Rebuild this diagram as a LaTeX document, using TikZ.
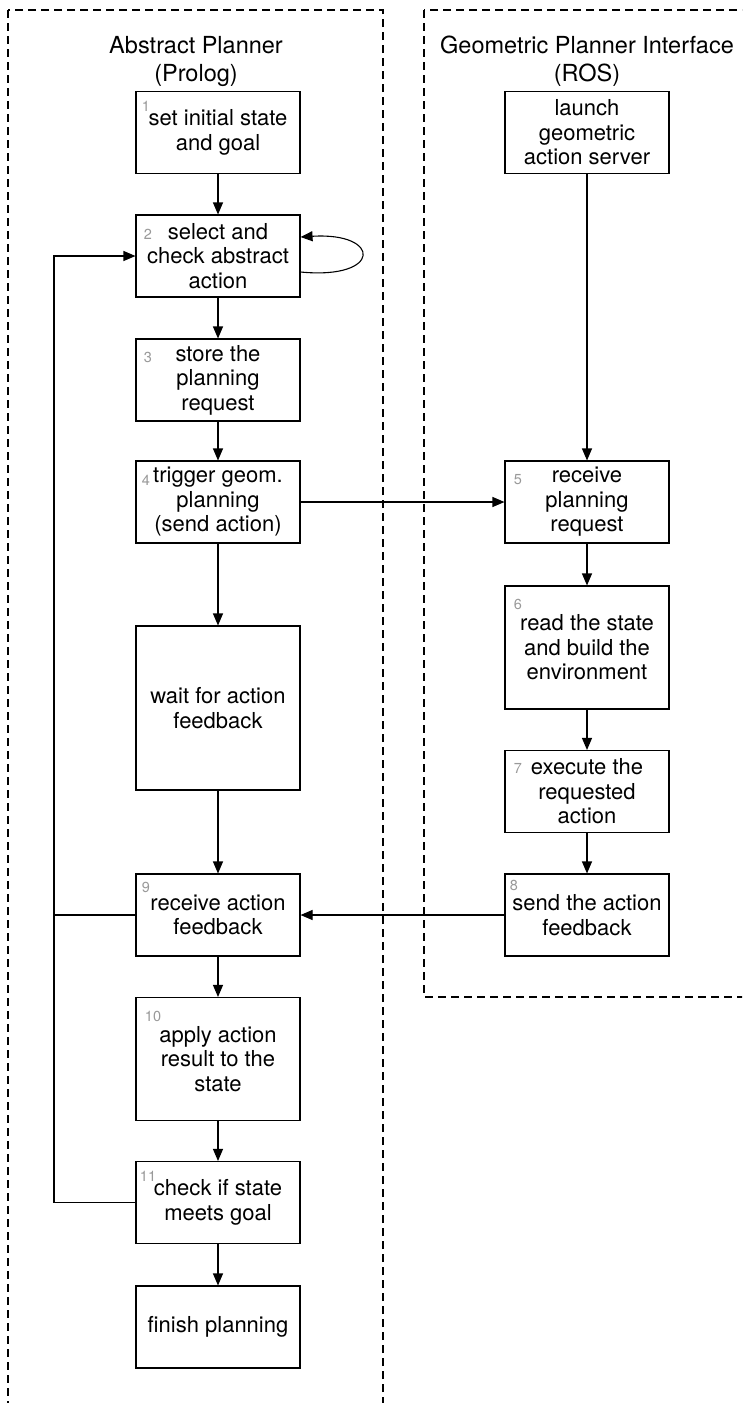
\documentclass[tikz,border=0pt]{standalone}
\usepackage{fontspec}
\setmainfont{TeX Gyre Heros}
\usetikzlibrary{arrows.meta,calc}

\begin{document}
\begin{tikzpicture}[x=1pt,y=-1pt,
  stepbox/.style={draw, line width=1.1pt, minimum width=164pt, minimum height=82pt,
    align=center, inner sep=0pt, font=\fontsize{22}{24.5}\selectfont},
  tallbox/.style={stepbox, minimum height=123pt},
  waitbox/.style={stepbox, minimum height=164pt},
  num/.style={text=black!40, font=\fontsize{14.5}{14.5}\selectfont, inner sep=0pt},
  flow/.style={line width=1.1pt, -{Triangle[length=12pt,width=10pt]}},
  plain/.style={line width=1.1pt},
  lane/.style={draw, line width=1.1pt, dash pattern=on 8pt off 5pt},
  lanetitle/.style={font=\fontsize{23.5}{28}\selectfont, align=center, inner sep=0pt}
]
\clip (0,0) rectangle (742,1403);
\fill[white] (0,0) rectangle (742,1403);

% swim lanes
\draw[lane] (8,10) rectangle (383,1430);
\draw[lane] (424,10) rectangle (770,997);
\node[lanetitle] (tl) at (196,61) {Abstract Planner\\(Prolog)};
\node[lanetitle] (tr) at (587,61) {Geometric Planner Interface\\(ROS)};

% abstract planner steps
\node[stepbox] (b1) at (218,132.5) {set initial state\\and goal};
\node[stepbox] (b2) at (218,256) {select and\\check abstract\\action};
\node[stepbox] (b3) at (218,380) {store the\\planning\\request};
\node[stepbox] (b4) at (218,502) {trigger geom.\\planning\\(send action)};
\node[waitbox] (bw) at (218,708) {wait for action\\feedback};
\node[stepbox] (b9) at (218,915) {receive action\\feedback};
\node[tallbox] (b10) at (218,1059) {apply action\\result to the\\state};
\node[stepbox] (b11) at (218,1202.5) {check if state\\meets goal};
\node[stepbox] (bf) at (218,1327) {finish planning};

% geometric planner steps
\node[stepbox] (g0) at (587,132.5) {launch\\geometric\\action server};
\node[stepbox] (b5) at (587,502) {receive\\planning\\request};
\node[tallbox] (b6) at (587,647.5) {read the state\\and build the\\environment};
\node[stepbox] (b7) at (587,791.5) {execute the\\requested\\action};
\node[stepbox] (b8) at (587,915) {send the action\\feedback};

% step numbers
\node[num] (n1) at (146,106) {1};
\node[num] (n2) at (148,234) {2};
\node[num] (n3) at (148,357) {3};
\node[num] (n4) at (146,480) {4};
\node[num] (n5) at (518,480) {5};
\node[num] (n6) at (518,604) {6};
\node[num] (n7) at (518,768) {7};
\node[num] (n8) at (514,885) {8};
\node[num] (n9) at (146,887) {9};
\node[num] (n10) at (153,1016) {10};
\node[num] (n11) at (148,1176) {11};

% main flow
\draw[flow] (b1) -- (b2);
\draw[flow] (b2) -- (b3);
\draw[flow] (b3) -- (b4);
\draw[flow] (b4) -- (bw);
\draw[flow] (bw) -- (b9);
\draw[flow] (b9) -- (b10);
\draw[flow] (b10) -- (b11);
\draw[flow] (b11) -- (bf);
\draw[flow] (g0) -- (b5);
\draw[flow] (b5) -- (b6);
\draw[flow] (b6) -- (b7);
\draw[flow] (b7) -- (b8);
\draw[flow] (b4) -- (b5);
\draw[flow] (b8) -- (b9);

% retry loop on the left
\coordinate (loopx) at (54,0);
\draw[flow] (b11.west) -| (loopx |- b9.west) |- (b2.west);
\draw[plain] (b9.west) -- (loopx |- b9.west);

% self loop on step 2
\draw[flow] ([yshift=-16pt]b2.east) .. controls (382,280) and (382,232) .. ([yshift=19pt]b2.east);
\end{tikzpicture}
\end{document}
